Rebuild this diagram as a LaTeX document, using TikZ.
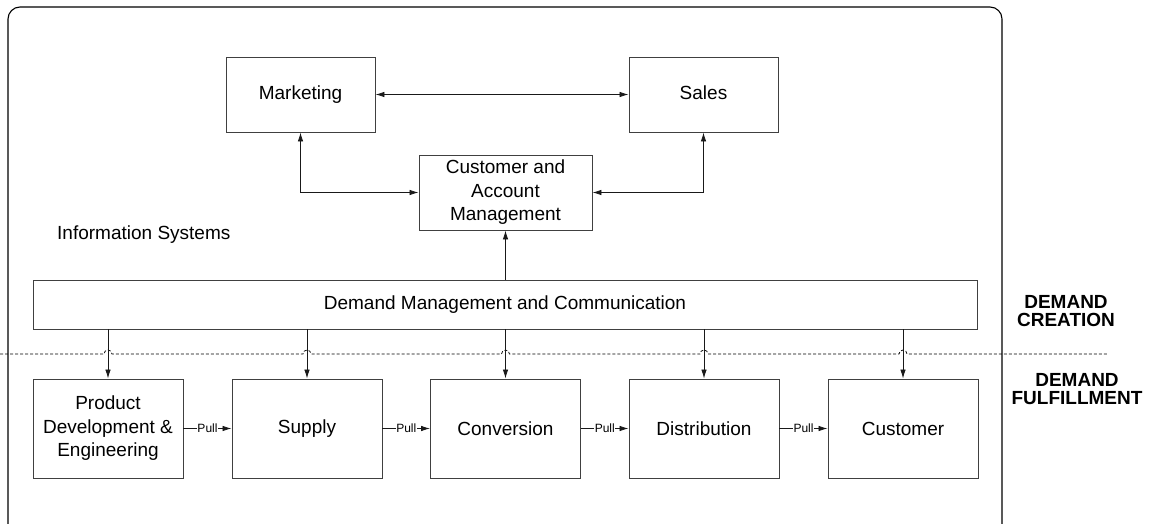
\documentclass[tikz,border=0pt]{standalone}
\usepackage{fontspec}
\setmainfont{Liberation Sans}
\usetikzlibrary{arrows.meta}
\begin{document}
\begin{tikzpicture}[x=1pt,y=1pt,
  box/.style={draw=black!75,line width=0.9pt,inner sep=0pt,align=center,font=\fontsize{19}{23.5}\selectfont},
  topbox/.style={box,minimum width=149pt,minimum height=75pt},
  lowbox/.style={box,minimum width=150pt,minimum height=99pt},
  conn/.style={draw=black!90,line width=0.8pt},
  tipend/.style={-{Latex[length=9pt,width=5.5pt]}},
  tipboth/.style={{Latex[length=9pt,width=5.5pt]}-{Latex[length=9pt,width=5.5pt]}},
  pull/.style={fill=white,inner sep=0.6pt,font=\fontsize{12}{12}\selectfont},
  sidelabel/.style={align=center,inner sep=0pt,font=\fontsize{19}{18.5}\selectfont\bfseries},
  dotline/.style={draw=black,line width=0.75pt,dash pattern=on 3pt off 2pt}
]
\useasboundingbox (0,0) rectangle (1151,-524);
\begin{scope}
\clip (0,0) rectangle (1151,-524);
\draw[line width=1.1pt,rounded corners=12pt] (8,-7) rectangle (1002,-548);
\end{scope}

% nodes
\node[topbox] (mkt) at (300.5,-94.5) {Marketing};
\node[topbox] (sales) at (703.5,-94.5) {Sales\vphantom{g}};
\node[box,minimum width=173pt,minimum height=75pt] (cam) at (505.5,-192.5) {Customer and\\ Account\\ Management};
\node[inner sep=0pt,anchor=base west,font=\fontsize{19}{23}\selectfont] (info) at (57,-239) {Information Systems};
\node[box,minimum width=944pt,minimum height=49pt] (dm) at (505,-304.5) {Demand Management and Communication};

\node[lowbox] (pd) at (108,-428.5) {Product\\ Development \&\\ Engineering};
\node[lowbox] (sup) at (307,-428.5) {Supply};
\node[lowbox] (conv) at (505.5,-428.5) {Conversion};
\node[lowbox] (dist) at (704,-428.5) {Distribution};
\node[lowbox] (cust) at (903,-428.5) {Customer};

\node[sidelabel] (dc) at (1066,-311) {DEMAND\\CREATION};
\node[sidelabel] (df) at (1077,-389) {DEMAND\\FULFILLMENT};

% dotted separator with hops
\draw[dotline] (0,-354) -- (104,-354) arc[start angle=180,end angle=0,radius=4pt]
  -- (303,-354) arc[start angle=180,end angle=0,radius=4pt]
  -- (501.5,-354) arc[start angle=180,end angle=0,radius=4pt]
  -- (700,-354) arc[start angle=180,end angle=0,radius=4pt]
  -- (899,-354) arc[start angle=180,end angle=0,radius=4pt]
  -- (1108,-354);

% connectors
\draw[conn,tipboth] (mkt) -- (sales);
\draw[conn,tipboth] (mkt.south) |- (cam.west);
\draw[conn,tipboth] (sales.south) |- (cam.east);
\draw[conn,tipend] (cam.south |- dm.north) -- (cam.south);
\foreach \n in {pd,sup,conv,dist,cust}{
  \draw[conn,tipend] (\n.north |- dm.south) -- (\n.north);
}
\draw[conn,tipend] (pd.east) -- node[pull]{Pull} (sup.west);
\draw[conn,tipend] (sup.east) -- node[pull]{Pull} (conv.west);
\draw[conn,tipend] (conv.east) -- node[pull]{Pull} (dist.west);
\draw[conn,tipend] (dist.east) -- node[pull]{Pull} (cust.west);
\end{tikzpicture}
\end{document}
